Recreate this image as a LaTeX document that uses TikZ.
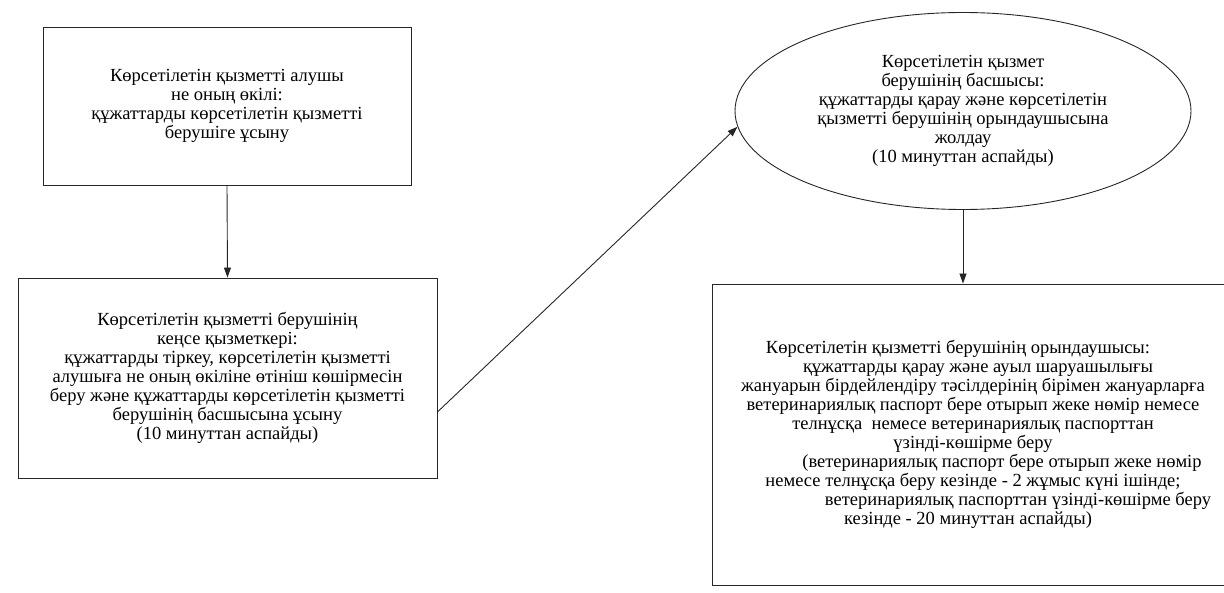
\documentclass[tikz,border=0pt]{standalone}
\usepackage{fontspec}
\setmainfont{Liberation Serif}
\usetikzlibrary{arrows.meta,shapes.geometric}

\begin{document}
\begin{tikzpicture}[x=1pt,y=-1pt,
    box/.style={draw=black!85, line width=0.9pt, inner sep=0pt, align=center,
      font=\fontsize{18.5}{19}\selectfont},
    oval/.style={ellipse, draw=black!85, line width=0.9pt, inner sep=0pt, align=center,
      font=\fontsize{18.5}{19}\selectfont},
    arr/.style={draw=black!85, line width=0.9pt, -{Triangle[length=10pt,width=7pt]}}]
  \useasboundingbox (0,0) rectangle (1224,593);

  \node[box, minimum width=368pt, minimum height=158pt] (alushy) at (227,106)
    {Көрсетілетін қызметті алушы\\ не оның өкілі:\\ құжаттарды көрсетілетін қызметті\\ берушіге ұсыну};

  \node[box, minimum width=419pt, minimum height=200pt] (kense) at (227.5,378)
    {Көрсетілетін қызметті берушінің\\ кеңсе қызметкері:\\ құжаттарды тіркеу, көрсетілетін қызметті\\
     алушыға не оның өкіліне өтініш көшірмесін\\ беру және құжаттарды көрсетілетін қызметті\\
     берушінің басшысына ұсыну\\ (10 минуттан аспайды)};

  \node[oval, minimum width=456pt, minimum height=197pt] (basshy) at (963,111)
    {Көрсетілетін қызмет\\ берушінің басшысы:\\ құжаттарды қарау және көрсетілетін\\
     қызметті берушінің орындаушысына\\ жолдау\\ (10 минуттан аспайды)};

  \node[box, minimum width=522pt, minimum height=301pt] (oryndau) at (973,434.5)
    {Көрсетілетін қызметті берушінің орындаушысы:\hspace*{30pt}\\
     \hspace*{10pt}құжаттарды қарау және ауыл шаруашылығы\\
     жануарын бірдейлендіру тәсілдерінің бірімен жануарларға\hspace*{10pt}\\
     ветеринариялық паспорт бере отырып жеке нөмір немесе\hspace*{10pt}\\
     телнұсқа\ \ немесе ветеринариялық паспорттан\hspace*{20pt}\\
     үзінді-көшірме беру\hspace*{10pt}\\
     \hspace*{58pt}(ветеринариялық паспорт бере отырып жеке нөмір\\
     немесе телнұсқа беру кезінде - 2 жұмыс күні ішінде;\hspace*{62pt}\\
     \hspace*{90pt}ветеринариялық паспорттан үзінді-көшірме беру\\
     кезінде - 20 минуттан аспайды)\hspace*{10pt}};

  % arrows
  \draw[arr] (alushy.south) -- (kense.north);
  \draw[arr] ([yshift=-34pt]kense.east) -- (basshy.184);
  \draw[arr] (basshy.south) -- (basshy.south |- oryndau.north);
\end{tikzpicture}
\end{document}
